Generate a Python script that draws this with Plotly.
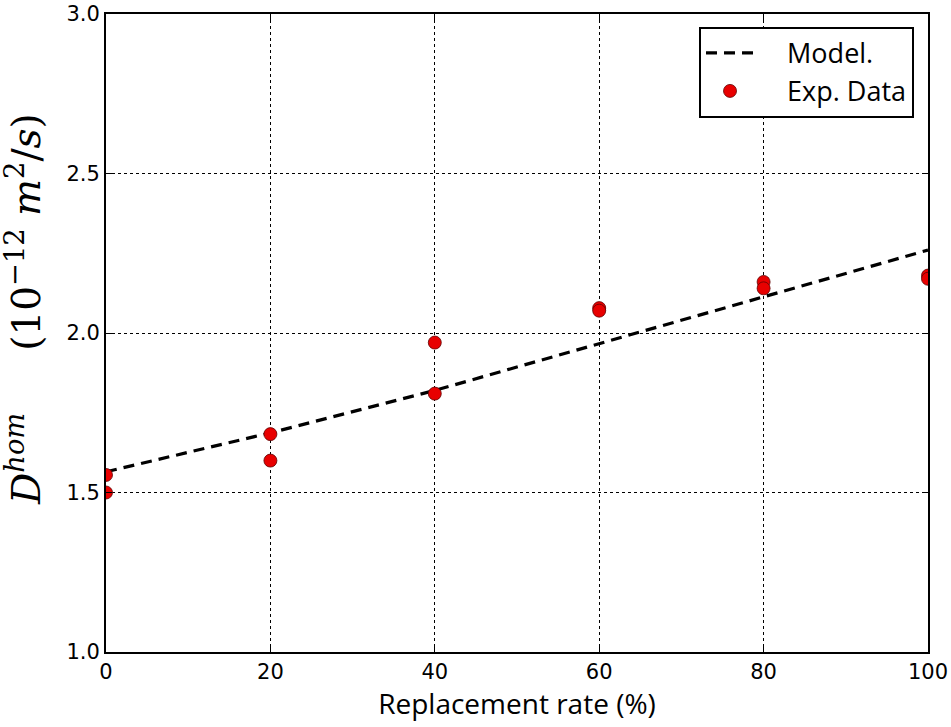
import plotly.graph_objects as go

# Experimental diffusion coefficients (10^-12 m^2/s) versus replacement rate (%)
exp_rate = [0, 0, 20, 20, 40, 40, 60, 60, 80, 80, 100, 100]
exp_d = [1.555, 1.50, 1.683, 1.60, 1.97, 1.81, 2.078, 2.07, 2.16, 2.14, 2.18, 2.17]

# Homogenised model prediction
model_rate = [0, 20, 40, 60, 80, 100]
model_d = [1.565, 1.687, 1.82, 1.967, 2.113, 2.26]

x_ticks = [0, 20, 40, 60, 80, 100]
y_ticks = [1.0, 1.5, 2.0, 2.5, 3.0]

# small spacer between the legend symbol and its label
pad = "\u00a0\u00a0\u00a0\u00a0"

fig = go.Figure()
fig.add_trace(go.Scatter(
    x=model_rate, y=model_d, mode="lines", name=pad + "Model.",
    line=dict(color="black", width=3.2, dash="11px,7px"),
))
fig.add_trace(go.Scatter(
    x=exp_rate, y=exp_d, mode="markers", name=pad + "Exp. Data",
    marker=dict(color="#e80000", size=13, line=dict(color="#600000", width=0.8)),
    cliponaxis=True,
))

axis_common = dict(
    showline=True, linecolor="black", linewidth=2, mirror="ticks",
    ticks="inside", ticklen=6, tickcolor="black", tickwidth=1,
    showgrid=True, gridcolor="black", griddash="dot", gridwidth=0.8,
    zeroline=False, automargin=False,
    tickfont=dict(family="DejaVu Sans", size=21, color="black"),
)

fig.update_xaxes(
    range=[0, 100], tickvals=x_ticks, ticktext=[str(v) for v in x_ticks],
    title=dict(text="Replacement rate (%)",
               font=dict(family="Open Sans", size=28, color="black"), standoff=8),
    **axis_common,
)
fig.update_yaxes(
    range=[1.0, 3.0], tickvals=y_ticks, ticktext=[f"{v:.1f}" for v in y_ticks],
    **axis_common,
)

# Vertical axis label in math-style serif italics
fig.add_annotation(
    text="<i>D</i><sup><i>hom</i></sup>&nbsp;&nbsp;&nbsp;&nbsp;&nbsp;(10<sup>\u221212</sup>&nbsp;<i>m</i><sup>2</sup>/<i>s</i>)",
    xref="paper", yref="paper", x=-0.0998, y=0.5376,
    xanchor="center", yanchor="middle", textangle=-90, showarrow=False,
    font=dict(family="DejaVu Serif", size=39, color="black"),
)

fig.update_layout(
    width=951, height=727,
    margin=dict(l=106, r=23, t=14, b=75),
    plot_bgcolor="white", paper_bgcolor="white",
    legend=dict(
        x=0.983, y=0.98, xanchor="right", yanchor="top",
        bordercolor="black", borderwidth=2, bgcolor="white",
        font=dict(family="Open Sans", size=27, color="black"),
        itemwidth=48, tracegroupgap=0,
    ),
)

fig.write_html("out.html")
